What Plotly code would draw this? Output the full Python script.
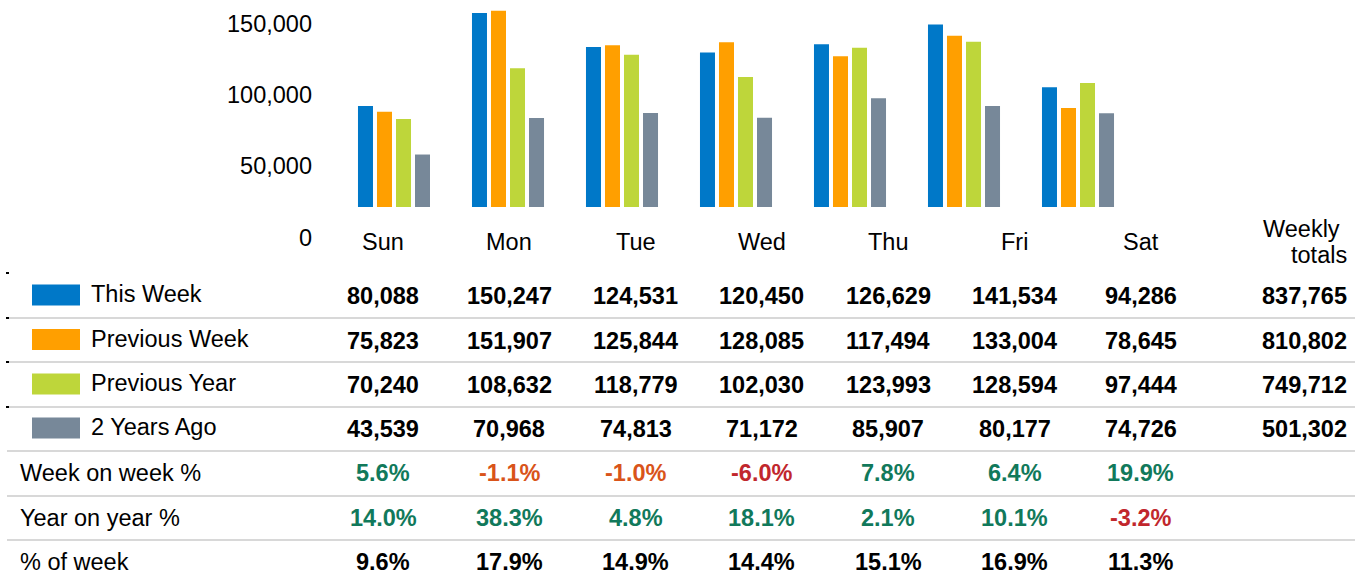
import plotly.graph_objects as go

# ---------------- data ----------------
days = ["Sun", "Mon", "Tue", "Wed", "Thu", "Fri", "Sat"]
series_names = ["This Week", "Previous Week", "Previous Year", "2 Years Ago"]
this_week = [80088, 150247, 124531, 120450, 126629, 141534, 94286]
previous_week = [75823, 151907, 125844, 128085, 117494, 133004, 78645]
previous_year = [70240, 108632, 118779, 102030, 123993, 128594, 97444]
two_years_ago = [43539, 70968, 74813, 71172, 85907, 80177, 74726]
weekly_totals = [837765, 810802, 749712, 501302]
week_on_week = [5.6, -1.1, -1.0, -6.0, 7.8, 6.4, 19.9]
year_on_year = [14.0, 38.3, 4.8, 18.1, 2.1, 10.1, -3.2]
pct_of_week = [9.6, 17.9, 14.9, 14.4, 15.1, 16.9, 11.3]
y_tick_values = [0, 50000, 100000, 150000]

series_values = [this_week, previous_week, previous_year, two_years_ago]
colors = ["#0078C8", "#FF9F00", "#BED63A", "#778899"]

# ---------------- layout helpers ----------------
W, H = 1361, 580


def px(x):
    return x / W


def py(y):
    return 1 - y / H


FONT = "Liberation Sans, Arial, sans-serif"
FS = 23.5
GREEN = "#11795B"
ORANGE = "#D9541A"
RED = "#C1272D"

fig = go.Figure()

for name, vals, col in zip(series_names, series_values, colors):
    fig.add_trace(go.Bar(
        x=days, y=vals, name=name, marker_color=col,
        marker_line_width=0, showlegend=False, hoverinfo="skip",
        xaxis="x", yaxis="y",
    ))

# invisible helper trace so the tick-label axis is drawn
fig.add_trace(go.Scatter(
    x=[days[0]], y=[0], mode="markers", marker_opacity=0,
    showlegend=False, hoverinfo="skip", xaxis="x", yaxis="y2",
))

annotations = []
shapes = []

# table column centres
col_x = [383 + 126.3 * i for i in range(len(days))]
row_y = [295, 339.5, 384, 428, 473, 517.5, 562]
sep_y = [318, 362, 407, 451, 496, 540]


def ann(text, x, y, xanchor="center", color="#000000", bold=False):
    annotations.append(dict(
        text=text, x=px(x), y=py(y), xref="paper", yref="paper",
        xanchor=xanchor, yanchor="middle", showarrow=False,
        font=dict(family=FONT, size=FS, color=color,
                  weight="bold" if bold else "normal"),
    ))


# day headers
for d, cx in zip(days, col_x):
    ann(d, cx, 242)
ann("Weekly", 1342, 229, xanchor="right")
ann("totals", 1349, 255, xanchor="right")

# series rows
for r, (name, vals, col, tot) in enumerate(zip(series_names, series_values, colors, weekly_totals)):
    yy = row_y[r]
    shapes.append(dict(type="rect", xref="paper", yref="paper",
                       x0=px(32), x1=px(80), y0=py(yy + 10.5), y1=py(yy - 10.5),
                       fillcolor=col, line_width=0))
    ann(name, 89, yy - 1, xanchor="left")
    for v, cx in zip(vals, col_x):
        ann(f"{v:,}", cx, yy + 1, bold=True)
    ann(f"{tot:,}", 1349, yy + 1, xanchor="right", bold=True)


def pct_color(v):
    if v >= 0:
        return GREEN
    if v > -2:
        return ORANGE
    return RED


ann("Week on week %", 18, row_y[4], xanchor="left")
for v, cx in zip(week_on_week, col_x):
    ann(f"{v:.1f}%", cx, row_y[4], color=pct_color(v), bold=True)

ann("Year on year %", 18, row_y[5], xanchor="left")
for v, cx in zip(year_on_year, col_x):
    ann(f"{v:.1f}%", cx, row_y[5], color=pct_color(v), bold=True)

ann("% of week", 18, row_y[6], xanchor="left")
for v, cx in zip(pct_of_week, col_x):
    ann(f"{v:.1f}%", cx, row_y[6], bold=True)

# separator lines
for sy in sep_y:
    shapes.append(dict(type="line", xref="paper", yref="paper",
                       x0=px(7), x1=px(1355), y0=py(sy), y1=py(sy),
                       line=dict(color="#CBCBCB", width=1.5)))

# small left tick marks
for ty in [273, 318, 362, 407]:
    shapes.append(dict(type="line", xref="paper", yref="paper",
                       x0=px(6), x1=px(9), y0=py(ty), y1=py(ty),
                       line=dict(color="#000000", width=2)))

fig.update_layout(
    width=W, height=H,
    margin=dict(l=0, r=0, t=0, b=0),
    paper_bgcolor="white", plot_bgcolor="rgba(0,0,0,0)",
    barmode="group", bargap=0.333, bargroupgap=0.21,
    showlegend=False,
    xaxis=dict(domain=[px(337), px(1135)], range=[-0.5, 6.5],
               showticklabels=False, showgrid=False, zeroline=False,
               showline=False, ticks="", fixedrange=True),
    yaxis=dict(domain=[py(207), py(5)], range=[4000, 156200],
               showticklabels=False, showgrid=False, zeroline=False,
               showline=False, ticks="", fixedrange=True),
    yaxis2=dict(domain=[py(250), py(5)], range=[-8750, 162800],
                anchor="free", position=px(312), side="left",
                tickvals=y_tick_values, tickformat=",",
                tickfont=dict(family=FONT, size=FS, color="#000000"),
                showgrid=False, zeroline=False, showline=False, ticks="",
                fixedrange=True),
    annotations=annotations,
    shapes=shapes,
)

fig.write_html("out.html")
